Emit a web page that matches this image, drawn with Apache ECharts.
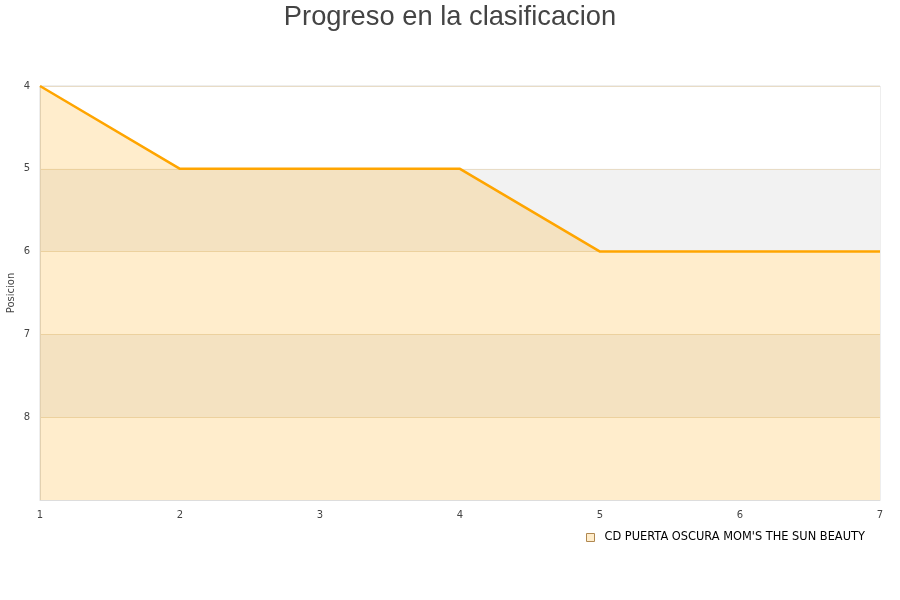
<!DOCTYPE html>
<html>
<head>
<meta charset="utf-8">
<script src="https://cdn.jsdelivr.net/npm/echarts@6/dist/echarts.min.js"></script>
<style>
html, body { margin: 0; padding: 0; background: #fff; }
#chart { width: 900px; height: 600px; }
</style>
</head>
<body>
<div id="chart"></div>
<script>
// datos
var jornadas = [1, 2, 3, 4, 5, 6, 7];
var posiciones = [4, 5, 5, 5, 6, 6, 6];
var equipo = "CD PUERTA OSCURA MOM'S THE SUN BEAUTY";

var chart = echarts.init(document.getElementById('chart'));
var option = {
    animation: false,
    backgroundColor: '#fff',
    textStyle: { fontFamily: 'DejaVu Sans' },
    title: {
        text: 'Progreso en la clasificacion',
        left: 'center',
        top: -1,
        textStyle: {
            fontFamily: 'Liberation Sans',
            fontSize: 27.3,
            fontWeight: 'normal',
            color: '#444'
        }
    },
    // titulo del eje Y
    graphic: [{
        type: 'text',
        x: 11,
        y: 293,
        rotation: Math.PI / 2,
        style: {
            text: 'Posicion',
            fontSize: 10,
            fontFamily: 'DejaVu Sans',
            fill: '#444',
            align: 'center',
            verticalAlign: 'middle'
        }
    }],
    legend: {
        left: 581,
        top: 527,
        icon: 'rect',
        itemWidth: 8,
        itemHeight: 8,
        itemStyle: { color: '#ffedcc', borderColor: '#b08850', borderWidth: 1 },
        textStyle: { fontSize: 11.4, color: '#000', padding: [0, 0, 0, 5] },
        data: [equipo]
    },
    grid: {
        left: 40,
        right: 20,
        top: 86,
        bottom: 100,
        outerBoundsMode: 'none',
        show: true,
        borderColor: '#ddd',
        borderWidth: 1
    },
    xAxis: {
        type: 'value',
        min: 1,
        max: 7,
        interval: 1,
        axisLine: { lineStyle: { color: '#ddd' } },
        axisTick: { show: false },
        axisLabel: { color: '#444', fontSize: 10, margin: 10 },
        splitLine: { show: false }
    },
    yAxis: {
        type: 'value',
        inverse: true,
        min: 4,
        max: 9,
        interval: 1,
        axisLine: { show: true, lineStyle: { color: '#ddd' } },
        axisTick: { show: false },
        axisLabel: { color: '#444', fontSize: 10, margin: 10, showMaxLabel: false },
        splitLine: { show: true, lineStyle: { color: '#e8dcc6' } },
        splitArea: { show: true, areaStyle: { color: ['#ffffff', '#f2f2f2'] } }
    },
    series: [{
        name: equipo,
        type: 'line',
        data: jornadas.map(function (j, i) { return [j, posiciones[i]]; }),
        symbol: 'none',
        itemStyle: { color: '#ffa500' },
        lineStyle: { color: '#ffa500', width: 2.5 },
        areaStyle: { color: 'rgba(255,165,0,0.2)', opacity: 1, origin: 'end' }
    }]
};
chart.setOption(option);
</script>
</body>
</html>
